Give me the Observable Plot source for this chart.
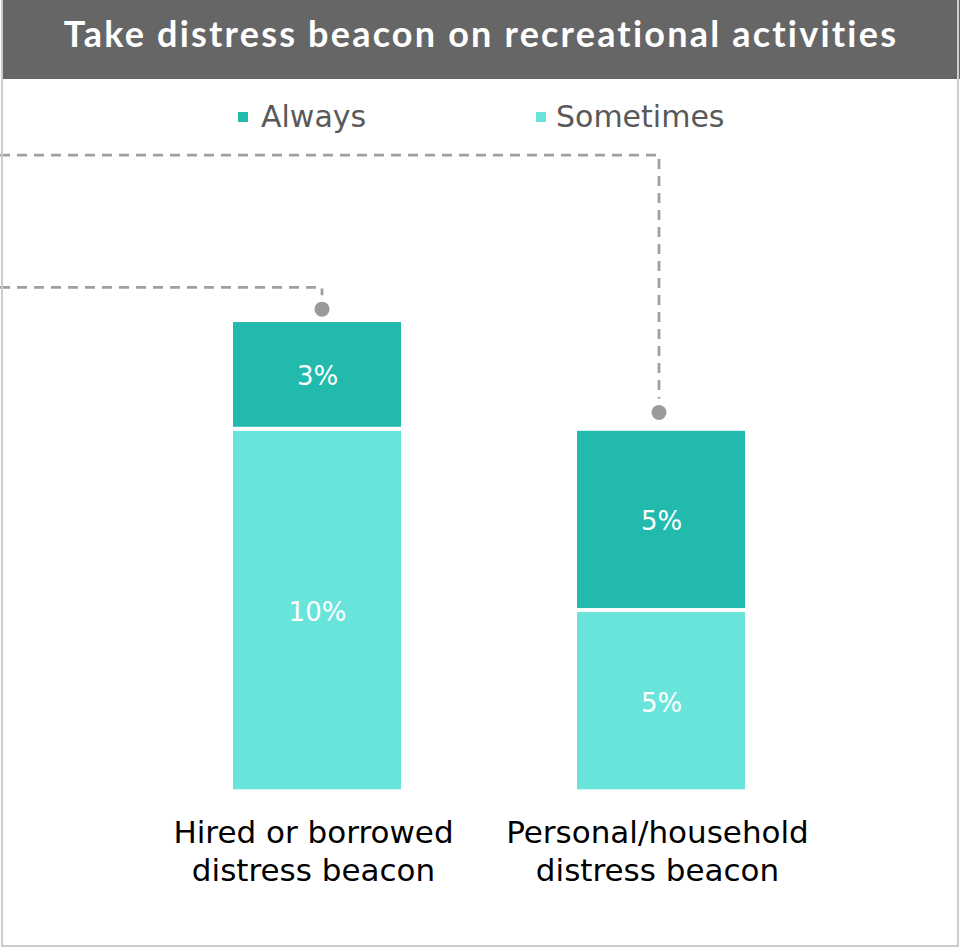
<!DOCTYPE html>
<html>
<head>
<meta charset="utf-8">
<script src="https://cdn.jsdelivr.net/npm/d3@7"></script>
<script src="https://cdn.jsdelivr.net/npm/@observablehq/plot@0.6"></script>
<style>
  html, body { margin: 0; padding: 0; background: #ffffff; }
  #wrap { position: relative; width: 960px; height: 947px; overflow: hidden; background: #ffffff; font-family: "DejaVu Sans", sans-serif; }
  #title { position: absolute; left: 2px; top: 0; width: 958px; height: 79px; background: #666666; color: #ffffff;
           font-family: Lato, "DejaVu Sans", sans-serif; font-weight: 700; font-size: 36px; line-height: 67px; text-align: center;
           letter-spacing: 2.2px; z-index: 3; }
  .leg-sw { position: absolute; width: 10px; height: 10px; z-index: 3; }
  .leg-tx { position: absolute; font-size: 30px; line-height: 30px; color: #595959; white-space: nowrap; z-index: 3; }
  .border { position: absolute; background: #cccccc; z-index: 4; }
  #chart { position: absolute; left: 0; top: 0; z-index: 1; }
</style>
</head>
<body>
<div id="wrap">
  <div id="chart"></div>
  <div id="title"></div>
  <div id="legend"></div>
  <div class="border" style="left:1px; top:0; width:2px; height:947px;"></div>
  <div class="border" style="left:957px; top:0; width:2px; height:947px;"></div>
  <div class="border" style="left:1px; top:945px; width:958px; height:2px;"></div>
</div>
<script>
// ---- data ----
const titleText = "Take distress beacon on recreational activities";
const categories = ["Hired or borrowed distress beacon", "Personal/household distress beacon"];
const categoryLines = [["Hired or borrowed", "distress beacon"], ["Personal/household", "distress beacon"]];
const seriesNames = ["Always", "Sometimes"];
const alwaysValues = [3, 5];
const sometimesValues = [10, 5];
// leader-line annotations (in % units of the value axis)
const connectorLevels = [13.9, 17.55];
const dotLevels = [13.3, 10.45];

const seriesColors = ["#21baad", "#68e4db"];

// ---- table built from the arrays (Sometimes stacked first, at the bottom) ----
const rows = [];
categories.forEach((c, i) => {
  rows.push({cat: c, series: "Sometimes", value: sometimesValues[i]});
  rows.push({cat: c, series: "Always", value: alwaysValues[i]});
});
const connectors = categories.map((c, i) => ({cat: c, level: connectorLevels[i], dot: dotLevels[i]}));
const labelOf = new Map(categories.map((c, i) => [c, categoryLines[i].join("\n")]));

// ---- title & legend ----
document.getElementById("title").textContent = titleText;
const legend = document.getElementById("legend");
const legendPos = [{sw: 238, tx: 261}, {sw: 536, tx: 556}];
seriesNames.forEach((s, i) => {
  const sw = document.createElement("div");
  sw.className = "leg-sw";
  sw.style.left = legendPos[i].sw + "px";
  sw.style.top = "112px";
  sw.style.background = seriesColors[i];
  legend.appendChild(sw);
  const tx = document.createElement("div");
  tx.className = "leg-tx";
  tx.style.left = legendPos[i].tx + "px";
  tx.style.top = "102px";
  tx.textContent = s;
  legend.appendChild(tx);
});

// ---- connector (leader line + end dot) mark drawn through the scales ----
const nudge = [5, -2]; // small horizontal styling nudge of the leader lines
function connectorMark(index, scales) {
  const {x, y} = scales;
  const bw = typeof x.bandwidth === "function" ? x.bandwidth() : (x.bandwidth || 0);
  const g = d3.create("svg:g");
  connectors.forEach((c, i) => {
    const cx = x(c.cat) + bw / 2 + nudge[i];
    const yl = y(c.level);
    const yd = y(c.dot);
    g.append("path")
      .attr("d", `M0,${yl}H${cx}V${yd - 14}`)
      .attr("fill", "none")
      .attr("stroke", "#a0a0a0")
      .attr("stroke-width", 2.8)
      .attr("stroke-dasharray", "10,7");
    g.append("circle")
      .attr("cx", cx)
      .attr("cy", yd)
      .attr("r", 7.5)
      .attr("fill", "#9a9a9a");
  });
  return g.node();
}

const plot = Plot.plot({
  width: 960,
  height: 947,
  marginLeft: 0,
  marginRight: 0,
  marginTop: 0,
  marginBottom: 155.7,
  style: {background: "transparent", fontFamily: "DejaVu Sans, sans-serif", overflow: "visible"},
  x: {domain: categories, range: [59, 919], padding: 0.5, axis: null},
  y: {domain: [0, 13], range: [791.3, 320.05], axis: null},
  color: {domain: seriesNames, range: seriesColors},
  marks: [
    connectorMark,
    Plot.barY(rows, {x: "cat", y: "value", fill: "series", stroke: "#ffffff", strokeWidth: 4}),
    Plot.text(rows, Plot.stackY({x: "cat", y: "value", z: "series", text: d => d.value + "%", fill: "#ffffff", fontSize: 26, dy: 2})),
    Plot.text(categories, {x: d => d, text: d => labelOf.get(d), frameAnchor: "bottom", lineAnchor: "top",
      dx: -4, dy: 24.5, fontSize: 31, lineHeight: 1.22, fill: "#000000"})
  ]
});
document.getElementById("chart").appendChild(plot);
</script>
</body>
</html>
